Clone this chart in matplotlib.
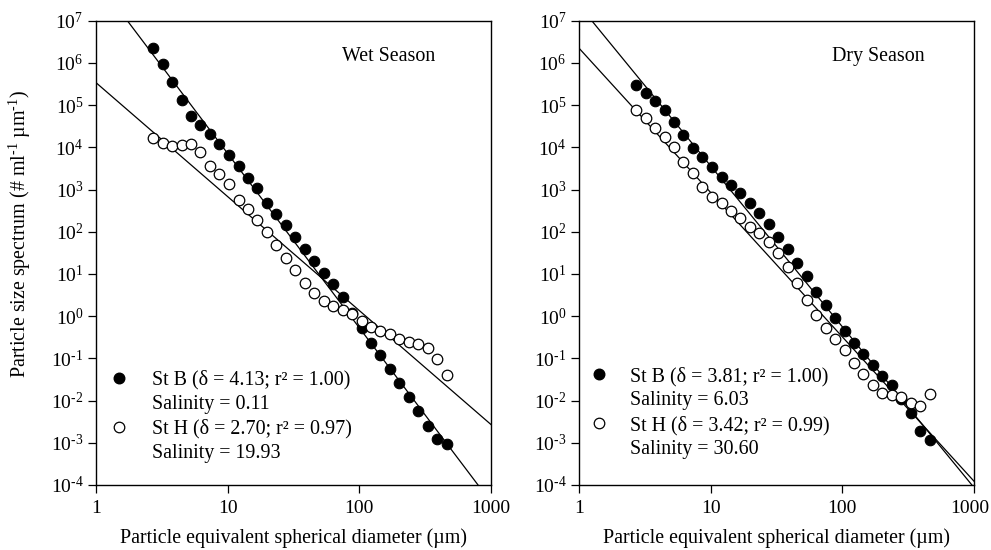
import matplotlib
matplotlib.use('Agg')
import matplotlib.pyplot as plt
from matplotlib.lines import Line2D
from matplotlib.ticker import NullLocator
import matplotlib.transforms as mtransforms
import numpy as np

plt.rcParams['font.family'] = ['Liberation Serif', 'DejaVu Serif']
plt.rcParams['mathtext.fontset'] = 'custom'
plt.rcParams['mathtext.rm'] = 'Liberation Serif'
plt.rcParams['mathtext.it'] = 'Liberation Serif:italic'
plt.rcParams['mathtext.default'] = 'regular'

# ---------------- data ----------------
# particle size bins (um)
diam = [2.72, 3.2, 3.78, 4.46, 5.27, 6.21, 7.33, 8.65, 10.2, 12.1, 14.2, 16.8,
        19.8, 23.4, 27.6, 32.5, 38.4, 45.3, 53.5, 63.1, 74.5, 87.9, 104, 122,
        144, 170, 201, 237, 280, 331, 390, 460]

wet_B = [2.3e6, 9.5e5, 3.5e5, 1.3e5, 5.6e4, 3.4e4, 2.1e4, 1.2e4, 6.5e3, 3.6e3,
         1.9e3, 1.07e3, 490, 265, 142, 74, 40, 20.7, 10.7, 5.7, 2.8, 1.2, 0.52,
         0.228, 0.12, 0.056, 0.0266, 0.0123, 0.0058, 0.0025, 0.00123, 0.00094]
wet_H = [1.64e4, 1.25e4, 1.08e4, 1.14e4, 1.18e4, 7.9e3, 3.6e3, 2.3e3, 1.36e3, 567,
         341, 190, 100, 48.7, 23.5, 12.4, 6.2, 3.6, 2.3, 1.75, 1.40, 1.13, 0.78,
         0.56, 0.454, 0.372, 0.284, 0.249, 0.219, 0.174, 0.095, 0.040]
dry_B = [3.0e5, 1.91e5, 1.26e5, 7.7e4, 3.9e4, 1.97e4, 9.5e3, 5.8e3, 3.5e3, 2.0e3,
         1.29e3, 817, 490, 274, 153, 76.6, 38.5, 17.9, 8.97, 3.81, 1.84, 0.89,
         0.446, 0.228, 0.127, 0.070, 0.038, 0.0234, 0.011, 0.005, 0.00194, 0.00116]
dry_H = [7.7e4, 4.9e4, 2.9e4, 1.8e4, 1.04e4, 4.6e3, 2.4e3, 1.17e3, 680, 490, 316,
         209, 132, 92, 58, 31, 14.9, 6.0, 2.42, 1.07, 0.516, 0.284, 0.158, 0.077,
         0.043, 0.0234, 0.0154, 0.0136, 0.0124, 0.0089, 0.0074, 0.0143]

# power-law fits  N = A * D^-delta
fit_A = {'wet_B': 9.6e7, 'wet_H': 3.4e5, 'dry_B': 2.33e7, 'dry_H': 2.23e6}
fit_delta = {'wet_B': 4.13, 'wet_H': 2.70, 'dry_B': 3.81, 'dry_H': 3.42}

legend_wet = ['St B (δ = 4.13; r² = 1.00)', 'Salinity = 0.11',
              'St H (δ = 2.70; r² = 0.97)', 'Salinity = 19.93']
legend_dry = ['St B (δ = 3.81; r² = 1.00)', 'Salinity = 6.03',
              'St H (δ = 3.42; r² = 0.99)', 'Salinity = 30.60']

x_ticks = [1, 10, 100, 1000]
x_ticklabels = ['1', '10', '100', '1000']
y_exps = list(range(-4, 8))

# ---------------- figure ----------------
fs = 14.4
tfs = 14.0
fig = plt.figure(figsize=(9.91, 5.5), dpi=100)
ax1 = fig.add_axes([0.0969, 0.1182, 0.3986, 0.8442])
ax2 = fig.add_axes([0.5843, 0.1182, 0.3986, 0.8442])

ms = 7.6


def exp_label(e):
    s = str(e).replace('-', '\u2010')
    return r'10$^{%s}$' % s


def setup(ax):
    ax.set_xscale('log')
    ax.set_yscale('log')
    ax.set_xlim(1, 1000)
    ax.set_ylim(1e-4, 1e7)
    ax.set_xticks(x_ticks)
    ax.set_xticklabels(x_ticklabels)
    ax.set_yticks([10.0 ** e for e in y_exps])
    ax.set_yticklabels([exp_label(e) for e in y_exps])
    ax.xaxis.set_minor_locator(NullLocator())
    ax.yaxis.set_minor_locator(NullLocator())
    ax.tick_params(direction='out', length=6, width=0.9, labelsize=tfs,
                   top=False, right=False)
    ax.tick_params(axis='x', pad=5)
    ax.tick_params(axis='y', pad=3)
    for s in ax.spines.values():
        s.set_linewidth(1.0)
    ax.set_xlabel('Particle equivalent spherical diameter (µm)', fontsize=fs,
                  labelpad=8)


def draw(ax, keyB, keyH, yB, yH):
    xs = np.logspace(0, 3, 300)
    for k in (keyB, keyH):
        ax.plot(xs, fit_A[k] * xs ** (-fit_delta[k]), color='black', lw=0.9,
                zorder=2)
    ax.plot(diam, yB, ls='none', marker='o', ms=ms, mfc='black', mec='black',
            mew=0.8, zorder=3, clip_on=False)
    ax.plot(diam, yH, ls='none', marker='o', ms=ms, mfc='white', mec='black',
            mew=0.9, zorder=4, clip_on=False)


def legend(ax, labels, x0, y0, pad):
    h = [Line2D([], [], ls='none', marker='o', ms=ms, mfc='black', mec='black'),
         Line2D([], [], ls='none'),
         Line2D([], [], ls='none', marker='o', ms=ms, mfc='white', mec='black', mew=0.9),
         Line2D([], [], ls='none')]
    ax.legend(h, labels, loc='upper left', bbox_to_anchor=(x0, y0),
              bbox_transform=ax.transAxes, frameon=False, fontsize=fs,
              handlelength=1.0, handletextpad=pad, labelspacing=0.26,
              borderaxespad=0, borderpad=0.4)


setup(ax1)
setup(ax2)
draw(ax1, 'wet_B', 'wet_H', wet_B, wet_H)
draw(ax2, 'dry_B', 'dry_H', dry_B, dry_H)
legend(ax1, legend_wet, 5 / 395, 0.2645, 1.15)
legend(ax2, legend_dry, 2.3 / 395, 0.272, 1.03)

ax1.text(0.622, 0.922, 'Wet Season', transform=ax1.transAxes, fontsize=fs,
         ha='left', va='center')
ax2.text(0.64, 0.922, 'Dry Season', transform=ax2.transAxes, fontsize=fs,
         ha='left', va='center')

ax1.set_ylabel('Particle size spectrum (# ml$^{\u20101}$ µm$^{\u20101}$)', fontsize=fs)
ax1.yaxis.set_label_coords(-0.16, 0.54)

# keep the last tick label of the right panel inside the figure
fig.canvas.draw()
lbl = ax2.get_xticklabels()[-1]
lbl.set_transform(lbl.get_transform() +
                  mtransforms.ScaledTranslation(-4 / 100, 0, fig.dpi_scale_trans))

fig.savefig('out.png', dpi=100)
